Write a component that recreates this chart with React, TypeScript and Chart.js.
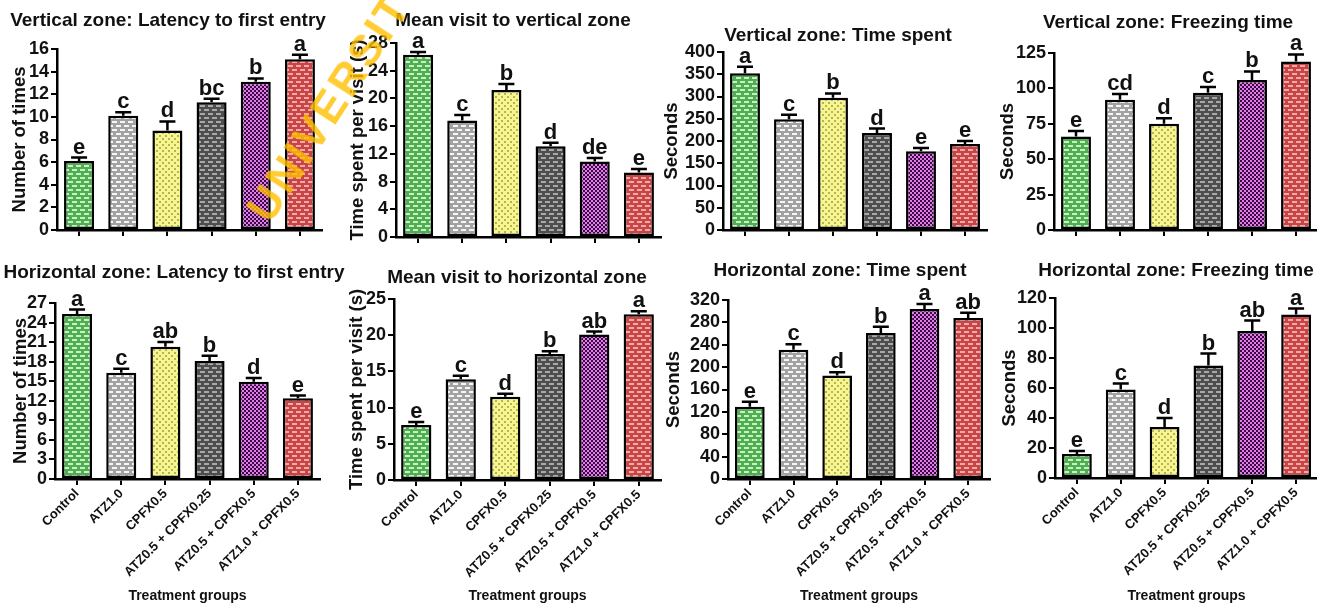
import React, { useEffect, useRef } from 'react';
import { Chart, registerables } from 'chart.js';
Chart.register(...registerables);

// ---------- DATA ----------
const GROUPS = ['Control', 'ATZ1.0', 'CPFX0.5', 'ATZ0.5 + CPFX0.25', 'ATZ0.5 + CPFX0.5', 'ATZ1.0 + CPFX0.5'];

const VZ_LATENCY = [6.1, 10.1, 8.8, 11.3, 13.1, 15.1];
const VZ_LATENCY_ERR = [0.3, 0.3, 0.8, 0.3, 0.3, 0.4];
const VZ_LATENCY_SIG = ['e', 'c', 'd', 'bc', 'b', 'a'];

const VZ_VISIT = [26.3, 16.8, 21.2, 13.1, 10.9, 9.3];
const VZ_VISIT_ERR = [0.4, 0.8, 0.9, 0.5, 0.5, 0.5];
const VZ_VISIT_SIG = ['a', 'c', 'b', 'd', 'de', 'e'];

const VZ_TIME = [352, 249, 297, 218, 177, 193];
const VZ_TIME_ERR = [15, 10, 10, 10, 7, 7];
const VZ_TIME_SIG = ['a', 'c', 'b', 'd', 'e', 'e'];

const VZ_FREEZE = [66, 92, 75, 97, 106, 119];
const VZ_FREEZE_ERR = [4, 4, 4, 4, 6, 5];
const VZ_FREEZE_SIG = ['e', 'cd', 'd', 'c', 'b', 'a'];

const HZ_LATENCY = [25.3, 16.3, 20.3, 18.1, 14.9, 12.4];
const HZ_LATENCY_ERR = [0.7, 0.6, 0.7, 0.8, 0.6, 0.4];
const HZ_LATENCY_SIG = ['a', 'c', 'ab', 'b', 'd', 'e'];

const HZ_VISIT = [7.6, 13.9, 11.5, 17.4, 20.1, 22.9];
const HZ_VISIT_ERR = [0.4, 0.5, 0.4, 0.4, 0.4, 0.4];
const HZ_VISIT_SIG = ['e', 'c', 'd', 'b', 'ab', 'a'];

const HZ_TIME = [129, 231, 185, 261, 304, 288];
const HZ_TIME_ERR = [9, 10, 6, 11, 9, 9];
const HZ_TIME_SIG = ['e', 'c', 'd', 'b', 'a', 'ab'];

const HZ_FREEZE = [16, 59, 34, 75, 98, 109];
const HZ_FREEZE_ERR = [2, 4, 6, 8, 7, 4];
const HZ_FREEZE_SIG = ['e', 'c', 'd', 'b', 'ab', 'a'];

// y-axis ranges: [max, step]
const Y_VZ_LATENCY = [16, 2];
const Y_VZ_VISIT = [28, 4];
const Y_VZ_TIME = [400, 50];
const Y_VZ_FREEZE = [125, 25];
const Y_HZ_LATENCY = [27, 3];
const Y_HZ_VISIT = [25, 5];
const Y_HZ_TIME = [320, 40];
const Y_HZ_FREEZE = [120, 20];

const TITLES = [
  'Vertical zone: Latency to first entry',
  'Mean visit to vertical zone',
  'Vertical zone: Time spent',
  'Vertical zone: Freezing time',
  'Horizontal zone: Latency to first entry',
  'Mean visit to horizontal zone',
  'Horizontal zone: Time spent',
  'Horizontal zone: Freezing time',
];
const Y_LABELS = [
  'Number of times', 'Time spent per visit (s)', 'Seconds', 'Seconds',
  'Number of times', 'Time spent per visit (s)', 'Seconds', 'Seconds',
];
const X_LABEL = 'Treatment groups';
const WATERMARK = 'UNIVERSITY';

// ---------- LAYOUT (page pixels) ----------
const GEOM = [
  { cl: 0, ct: 0, cw: 345, ch: 250, left: 57, right: 322, top: 49, bottom: 230, labelX: 20, tx: 168, ty: 21 },
  { cl: 345, ct: 0, cw: 330, ch: 250, left: 396, right: 661, top: 43, bottom: 237, labelX: 358, tx: 513, ty: 21 },
  { cl: 660, ct: 0, cw: 342, ch: 250, left: 723, right: 987, top: 52, bottom: 230, labelX: 672, tx: 838, ty: 36 },
  { cl: 996, ct: 0, cw: 337, ch: 250, left: 1054, right: 1318, top: 53, bottom: 230, labelX: 1008, tx: 1168, ty: 23 },
  { cl: 0, ct: 250, cw: 352, ch: 360, left: 55, right: 320, top: 303, bottom: 479, labelX: 21, tx: 174, ty: 273 },
  { cl: 345, ct: 250, cw: 330, ch: 360, left: 394, right: 661, top: 299, bottom: 480, labelX: 357, tx: 517, ty: 278 },
  { cl: 660, ct: 250, cw: 342, ch: 360, left: 728, right: 990, top: 300, bottom: 479, labelX: 674, tx: 840, ty: 271 },
  { cl: 996, ct: 250, cw: 337, ch: 360, left: 1055, right: 1318, top: 298, bottom: 478, labelX: 1010, tx: 1176, ty: 271 },
];

const PANELS = [
  { v: VZ_LATENCY, e: VZ_LATENCY_ERR, s: VZ_LATENCY_SIG, y: Y_VZ_LATENCY },
  { v: VZ_VISIT, e: VZ_VISIT_ERR, s: VZ_VISIT_SIG, y: Y_VZ_VISIT },
  { v: VZ_TIME, e: VZ_TIME_ERR, s: VZ_TIME_SIG, y: Y_VZ_TIME },
  { v: VZ_FREEZE, e: VZ_FREEZE_ERR, s: VZ_FREEZE_SIG, y: Y_VZ_FREEZE },
  { v: HZ_LATENCY, e: HZ_LATENCY_ERR, s: HZ_LATENCY_SIG, y: Y_HZ_LATENCY },
  { v: HZ_VISIT, e: HZ_VISIT_ERR, s: HZ_VISIT_SIG, y: Y_HZ_VISIT },
  { v: HZ_TIME, e: HZ_TIME_ERR, s: HZ_TIME_SIG, y: Y_HZ_TIME },
  { v: HZ_FREEZE, e: HZ_FREEZE_ERR, s: HZ_FREEZE_SIG, y: Y_HZ_FREEZE },
];

const FONT = "'Liberation Sans', Arial, Helvetica, sans-serif";
const INK = '#111';

// ---------- PATTERNS ----------
function brick(base: string, fg: string) {
  const c = document.createElement('canvas');
  c.width = 8; c.height = 8;
  const g = c.getContext('2d')!;
  g.fillStyle = base; g.fillRect(0, 0, 8, 8);
  g.fillStyle = fg;
  g.fillRect(0, 1, 5, 2);
  g.fillRect(4, 5, 4, 2);
  g.fillRect(0, 5, 1, 2);
  return g.createPattern(c, 'repeat')!;
}
function dots(base: string, fg: string) {
  const c = document.createElement('canvas');
  c.width = 6; c.height = 6;
  const g = c.getContext('2d')!;
  g.fillStyle = base; g.fillRect(0, 0, 6, 6);
  g.fillStyle = fg;
  g.fillRect(0, 0, 2, 2);
  g.fillRect(3, 3, 2, 2);
  return g.createPattern(c, 'repeat')!;
}
function checker(a: string, b: string) {
  const c = document.createElement('canvas');
  c.width = 4; c.height = 4;
  const g = c.getContext('2d')!;
  g.fillStyle = a; g.fillRect(0, 0, 4, 4);
  g.fillStyle = b;
  g.fillRect(0, 0, 2, 2);
  g.fillRect(2, 2, 2, 2);
  return g.createPattern(c, 'repeat')!;
}
function makeFills() {
  return [
    brick('#4fae4f', '#c9f2c4'),
    brick('#a2a2a2', '#f6f6f6'),
    dots('#f6f58e', '#b5b25a'),
    brick('#4e4e4e', '#a9a9a9'),
    checker('#e27ceb', '#3a0a42'),
    brick('#c94545', '#f2a9a9'),
  ];
}

function Panel({ idx }: { idx: number }) {
  const ref = useRef<HTMLCanvasElement | null>(null);
  const g = GEOM[idx];
  const p = PANELS[idx];
  const bottomRow = idx >= 4;
  useEffect(() => {
    if (!ref.current) return;
    const yTitleFont = 18.5;
    const yTitlePad = Math.max(0, g.labelX - g.cl - (yTitleFont * 1.2) / 2);
    const xH = g.ct + g.ch - g.bottom;
    const yW = g.left - g.cl;
    const annotate = {
      id: 'annotate' + idx,
      afterDatasetsDraw(chart: any) {
        const ctx = chart.ctx;
        const ys = chart.scales.y;
        const meta = chart.getDatasetMeta(0);
        ctx.save();
        ctx.strokeStyle = '#000';
        ctx.lineWidth = 2.5;
        ctx.fillStyle = INK;
        ctx.font = `bold 22px ${FONT}`;
        ctx.textAlign = 'center';
        ctx.textBaseline = 'alphabetic';
        meta.data.forEach((bar: any, i: number) => {
          const y0 = ys.getPixelForValue(p.v[i]);
          const y1 = ys.getPixelForValue(p.v[i] + p.e[i]);
          ctx.beginPath();
          ctx.moveTo(bar.x, y0);
          ctx.lineTo(bar.x, y1);
          ctx.moveTo(bar.x - 8, y1);
          ctx.lineTo(bar.x + 8, y1);
          ctx.stroke();
          ctx.fillText(p.s[i], bar.x, y1 - 4);
        });
        ctx.font = `bold 19px ${FONT}`;
        ctx.textBaseline = 'middle';
        ctx.fillText(TITLES[idx], g.tx - g.cl, g.ty - g.ct);
        ctx.restore();
      },
    };
    const chart = new Chart(ref.current, {
      type: 'bar',
      data: {
        labels: GROUPS,
        datasets: [{
          data: p.v,
          backgroundColor: makeFills(),
          borderColor: '#000',
          borderWidth: 2.5,
          borderSkipped: false,
          barPercentage: 0.68,
          categoryPercentage: 1,
        }],
      },
      options: {
        animation: false,
        responsive: false,
        devicePixelRatio: 1,
        layout: { padding: { top: g.top - g.ct, right: g.cl + g.cw - g.right, left: 0, bottom: 0 } },
        plugins: { legend: { display: false }, tooltip: { enabled: false }, title: { display: false } },
        scales: {
          x: {
            grid: { display: true, drawOnChartArea: false, drawTicks: true, tickLength: 6, offset: false, color: '#000', lineWidth: 2 },
            border: { display: true, color: '#000', width: 2.5 },
            ticks: {
              display: bottomRow, autoSkip: false, maxRotation: 45, minRotation: 45, padding: 1,
              color: INK, font: { family: FONT, size: 13, weight: 'bold' },
            },
            title: {
              display: bottomRow, text: X_LABEL, color: INK,
              font: { family: FONT, size: 14, weight: 'bold' }, padding: { top: 0, bottom: 5 },
            },
            afterFit: (s: any) => { s.height = xH; },
          },
          y: {
            min: 0, max: p.y[0],
            ticks: { stepSize: p.y[1], autoSkip: false, padding: 2, color: INK, font: { family: FONT, size: 18, weight: 'bold' } },
            grid: { display: true, drawOnChartArea: false, drawTicks: true, tickLength: 6, color: '#000', lineWidth: 2 },
            border: { display: true, color: '#000', width: 2.5 },
            title: {
              display: true, text: Y_LABELS[idx], color: INK,
              font: { family: FONT, size: yTitleFont, weight: 'bold' }, padding: { top: yTitlePad, bottom: 0 },
            },
            afterFit: (s: any) => { s.width = yW; },
          },
        },
      },
      plugins: [annotate],
    } as any);
    return () => chart.destroy();
  }, [idx]);
  return (
    <canvas
      ref={ref}
      width={g.cw}
      height={g.ch}
      style={{ position: 'absolute', left: g.cl, top: g.ct, width: g.cw, height: g.ch }}
    />
  );
}

export default function App() {
  return (
    <div style={{ position: 'fixed', left: 0, top: 0, width: 1317, height: 610, overflow: 'hidden', background: '#fff' }}>
      {GEOM.map((_, i) => <Panel key={i} idx={i} />)}
      <div
        style={{
          position: 'absolute', left: 276, top: 185, height: 44, lineHeight: '44px',
          fontFamily: FONT, fontWeight: 'bold', fontSize: 44, letterSpacing: 3,
          color: 'rgba(255, 192, 0, 0.8)', whiteSpace: 'nowrap',
          transform: 'rotate(-57deg)', transformOrigin: '0% 100%', pointerEvents: 'none',
        }}
      >
        {WATERMARK}
      </div>
    </div>
  );
}
